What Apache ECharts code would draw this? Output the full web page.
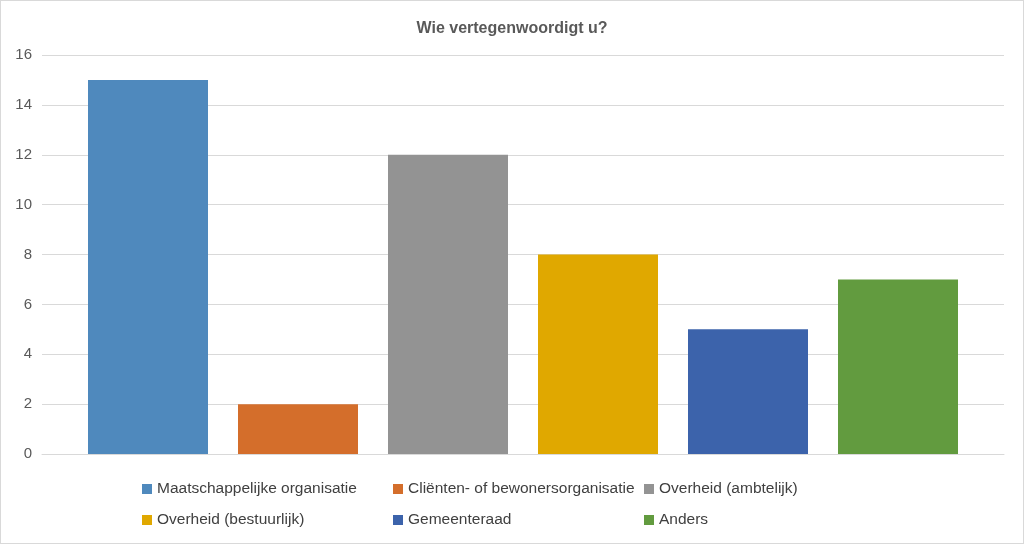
<!DOCTYPE html>
<html>
<head>
<meta charset="utf-8">
<script src="https://cdn.jsdelivr.net/npm/echarts@6/dist/echarts.min.js"></script>
<style>
  html, body { margin: 0; padding: 0; background: #fff; }
  #chart { width: 1024px; height: 544px; box-sizing: border-box; border: 1px solid #d9d9d9; }
</style>
</head>
<body>
<div id="chart"></div>
<script>
// 数据
const categories = ['Wie vertegenwoordigt u?'];
const seriesNames = [
  'Maatschappelijke organisatie',
  'Cliënten- of bewonersorganisatie',
  'Overheid (ambtelijk)',
  'Overheid (bestuurlijk)',
  'Gemeenteraad',
  'Anders'
];
const seriesValues = [15, 2, 12, 8, 5, 7];
const colors = ['#4f89bd', '#d46e2b', '#939393', '#e0a800', '#3c63ab', '#629b3f'];

const chart = echarts.init(document.getElementById('chart'));

const font = '"Liberation Sans", Arial, sans-serif';
const legendText = { color: '#404040', fontSize: 15.5, fontFamily: font };

// 每个图例项单独放, 三列两行
const legendLeft = [136, 387, 638];
const legendTop = [475, 506];

function legendItem(i) {
  return {
    left: legendLeft[i % 3],
    top: legendTop[Math.floor(i / 3)],
    itemWidth: 10,
    itemHeight: 10,
    icon: 'rect',
    textStyle: legendText,
    data: [seriesNames[i]]
  };
}

chart.setOption({
  backgroundColor: '#ffffff',
  color: colors,
  title: {
    text: 'Wie vertegenwoordigt u?',
    left: 'center',
    top: 15,
    textStyle: { color: '#595959', fontSize: 16, fontWeight: 'bold', fontFamily: font }
  },
  legend: seriesNames.map((n, i) => legendItem(i)),
  grid: { left: 41, right: 19, top: 54, bottom: 89 },
  xAxis: {
    type: 'category',
    data: categories,
    axisLine: { show: true, lineStyle: { color: '#d9d9d9' } },
    axisTick: { show: false },
    axisLabel: { show: false }
  },
  yAxis: {
    type: 'value',
    min: 0,
    max: 16,
    interval: 2,
    axisLine: { show: false },
    axisTick: { show: false },
    axisLabel: { color: '#595959', fontSize: 15, fontFamily: font, margin: 10 },
    splitLine: { lineStyle: { color: '#d9d9d9' } }
  },
  series: seriesNames.map((name, i) => ({
    name: name,
    type: 'bar',
    barWidth: 120,
    barGap: '25%',
    data: [seriesValues[i]]
  }))
});
</script>
</body>
</html>
